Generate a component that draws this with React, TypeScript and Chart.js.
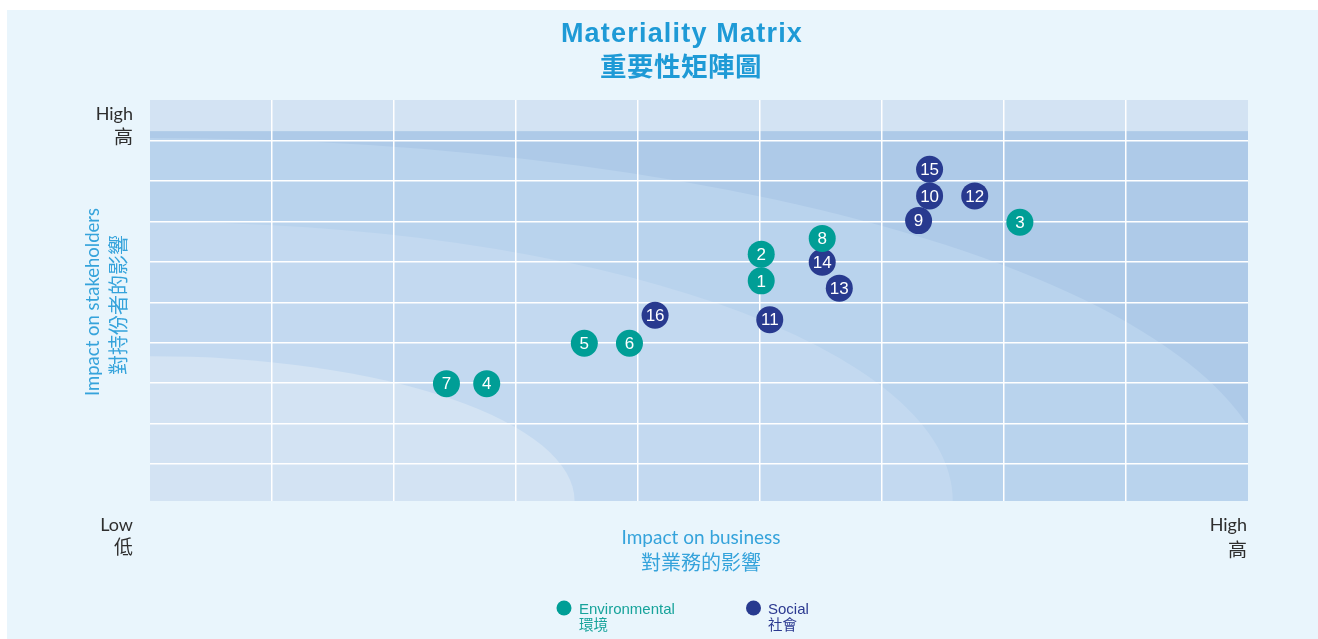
import { useEffect, useRef } from "react";
import { Chart, registerables } from "chart.js";

Chart.register(...registerables);

// ---- Data ----
const envIds = [1, 2, 3, 4, 5, 6, 7, 8];
const envX = [5.01, 5.01, 7.13, 2.76, 3.56, 3.93, 2.43, 5.51];
const envY = [5.53, 6.19, 6.98, 2.99, 3.99, 3.99, 2.99, 6.58];

const socIds = [9, 10, 11, 12, 13, 14, 15, 16];
const socX = [6.3, 6.39, 5.08, 6.76, 5.65, 5.51, 6.39, 4.14];
const socY = [7.02, 7.63, 4.57, 7.63, 5.35, 5.99, 8.29, 4.68];

const xTickValues = [1, 2, 3, 4, 5, 6, 7, 8];
const yTickValues = [1, 2, 3, 4, 5, 6, 7, 8, 9];
const X_MIN = 0;
const X_MAX = 9;
const Y_MIN = 0.09;
const Y_MAX = 10;

// background zones (quarter ellipses from the low/low corner), in axis units
const zoneRX = [9.2, 6.58, 3.48];
const zoneRY = [8.97, 6.9, 3.58];
const zoneColors = ["#b9d3ed", "#c3d9f0", "#d3e3f3"];
const outerZoneColor = "#aecae8";
const topBandFrom = 9.23;
const topBandColor = "#d3e3f3";

const ENV_COLOR = "#009e96";
const SOC_COLOR = "#283a8f";
const TITLE_COLOR = "#1e9ad6";
const AXIS_TITLE_COLOR = "#35a3db";
const DARK_TEXT = "#2e2e2e";
const PANEL_COLOR = "#e9f5fc";

const CJK = '"Noto Sans CJK TC"';
const HUMANIST = `Lato, ${CJK}, sans-serif`;
const ARIAL = `"Liberation Sans", Arial, ${CJK}, sans-serif`;

const bgPlugin = {
  id: "bgZones",
  beforeDraw(chart: any) {
    const { ctx, chartArea: a, scales } = chart;
    const xs = scales.x;
    const ys = scales.y;
    ctx.save();
    ctx.fillStyle = "#ffffff";
    ctx.fillRect(0, 0, chart.width, chart.height);
    ctx.fillStyle = PANEL_COLOR;
    ctx.fillRect(7, 10, chart.width - 7, chart.height - 10);

    ctx.beginPath();
    ctx.rect(a.left, a.top, a.right - a.left, a.bottom - a.top);
    ctx.clip();
    ctx.fillStyle = outerZoneColor;
    ctx.fillRect(a.left, a.top, a.right - a.left, a.bottom - a.top);
    const cx = xs.getPixelForValue(X_MIN);
    const cy = ys.getPixelForValue(Y_MIN);
    zoneRX.forEach((rx, i) => {
      const px = xs.getPixelForValue(X_MIN + rx) - cx;
      const py = cy - ys.getPixelForValue(Y_MIN + zoneRY[i]);
      ctx.beginPath();
      ctx.ellipse(cx, cy, px, py, 0, 0, Math.PI * 2);
      ctx.fillStyle = zoneColors[i];
      ctx.fill();
    });
    const tb = ys.getPixelForValue(topBandFrom);
    ctx.fillStyle = topBandColor;
    ctx.fillRect(a.left, a.top, a.right - a.left, tb - a.top);
    ctx.restore();
  },
};

const labelPlugin = {
  id: "pointLabels",
  afterDatasetsDraw(chart: any) {
    const { ctx } = chart;
    ctx.save();
    ctx.fillStyle = "#ffffff";
    ctx.font = `17px ${ARIAL}`;
    ctx.textAlign = "center";
    ctx.textBaseline = "middle";
    chart.data.datasets.forEach((ds: any, di: number) => {
      const meta = chart.getDatasetMeta(di);
      meta.data.forEach((el: any, i: number) => {
        ctx.fillText(String(ds.ids[i]), el.x, el.y + 1);
      });
    });
    ctx.restore();
  },
};

const textPlugin = {
  id: "texts",
  afterDraw(chart: any) {
    const { ctx } = chart;
    ctx.save();
    // title
    ctx.fillStyle = TITLE_COLOR;
    ctx.textAlign = "center";
    ctx.textBaseline = "alphabetic";
    ctx.font = `bold 27px ${ARIAL}`;
    (ctx as any).letterSpacing = "1.2px";
    ctx.fillText("Materiality Matrix", 682, 42);
    (ctx as any).letterSpacing = "0.5px";
    ctx.textBaseline = "middle";
    ctx.font = `bold 26.5px ${CJK}`;
    ctx.fillText("重要性矩陣圖", 681, 66);
    (ctx as any).letterSpacing = "0px";

    // corner labels
    ctx.fillStyle = DARK_TEXT;
    ctx.textAlign = "right";
    ctx.textBaseline = "alphabetic";
    ctx.font = `18px ${HUMANIST}`;
    ctx.fillText("High", 133, 120);
    ctx.fillText("Low", 133, 531);
    ctx.fillText("High", 1247, 531);
    ctx.textBaseline = "middle";
    ctx.font = `19px ${CJK}`;
    ctx.fillText("高", 133, 137);
    ctx.fillText("低", 133, 547);
    ctx.fillText("高", 1247, 550);

    // x axis title
    ctx.fillStyle = AXIS_TITLE_COLOR;
    ctx.textAlign = "center";
    ctx.textBaseline = "alphabetic";
    ctx.font = `19px ${HUMANIST}`;
    ctx.fillText("Impact on business", 701, 544);
    ctx.textBaseline = "middle";
    ctx.font = `20px ${CJK}`;
    ctx.fillText("對業務的影響", 701, 562);

    // y axis title
    ctx.save();
    ctx.translate(99, 302);
    ctx.rotate(-Math.PI / 2);
    ctx.textBaseline = "alphabetic";
    ctx.font = `18.5px ${HUMANIST}`;
    ctx.fillText("Impact on stakeholders", 0, 0);
    ctx.restore();
    ctx.save();
    ctx.translate(118, 305);
    ctx.rotate(-Math.PI / 2);
    ctx.textBaseline = "middle";
    ctx.font = `20px ${CJK}`;
    ctx.fillText("對持份者的影響", 0, 0);
    ctx.restore();

    // legend
    const items = [
      { cx: 564, tx: 579, color: ENV_COLOR, textColor: "#17a39b", en: "Environmental", zh: "環境" },
      { cx: 753.5, tx: 768, color: SOC_COLOR, textColor: "#2b3990", en: "Social", zh: "社會" },
    ];
    items.forEach((it) => {
      ctx.beginPath();
      ctx.arc(it.cx, 608, 7.5, 0, Math.PI * 2);
      ctx.fillStyle = it.color;
      ctx.fill();
      ctx.fillStyle = it.textColor;
      ctx.textAlign = "left";
      ctx.textBaseline = "alphabetic";
      ctx.font = `15px ${ARIAL}`;
      ctx.fillText(it.en, it.tx, 613.5);
      ctx.textBaseline = "middle";
      ctx.font = `14.5px ${CJK}`;
      ctx.fillText(it.zh, it.tx, 624.5);
    });
    ctx.restore();
  },
};

function toPoints(xs: number[], ys: number[]) {
  return xs.map((x, i) => ({ x, y: ys[i] }));
}

export default function App() {
  const ref = useRef<HTMLCanvasElement | null>(null);
  useEffect(() => {
    if (!ref.current) return;
    const chart = new Chart(ref.current, {
      type: "scatter",
      data: {
        datasets: [
          {
            label: "Environmental 環境",
            data: toPoints(envX, envY),
            backgroundColor: ENV_COLOR,
            borderWidth: 0,
            pointRadius: 13.5,
            pointHoverRadius: 13.5,
            ids: envIds,
          } as any,
          {
            label: "Social 社會",
            data: toPoints(socX, socY),
            backgroundColor: SOC_COLOR,
            borderWidth: 0,
            pointRadius: 13.5,
            pointHoverRadius: 13.5,
            ids: socIds,
          } as any,
        ],
      },
      options: {
        animation: false,
        responsive: false,
        events: [],
        layout: { padding: { left: 150, right: 70, top: 100, bottom: 138 } },
        plugins: {
          legend: { display: false },
          tooltip: { enabled: false },
          title: { display: false },
        },
        scales: {
          x: {
            type: "linear",
            min: X_MIN,
            max: X_MAX,
            afterBuildTicks: (s: any) => {
              s.ticks = xTickValues.map((v) => ({ value: v }));
            },
            ticks: { display: false },
            grid: { color: "#ffffff", lineWidth: 1.5, drawTicks: false },
            border: { display: false },
          },
          y: {
            type: "linear",
            min: Y_MIN,
            max: Y_MAX,
            afterBuildTicks: (s: any) => {
              s.ticks = yTickValues.map((v) => ({ value: v }));
            },
            ticks: { display: false },
            grid: { color: "#ffffff", lineWidth: 1.5, drawTicks: false },
            border: { display: false },
          },
        },
      },
      plugins: [bgPlugin, labelPlugin, textPlugin],
    });
    return () => chart.destroy();
  }, []);
  return (
    <div style={{ position: "absolute", left: 0, top: 0, width: 1318, height: 639 }}>
      <canvas ref={ref} width={1318} height={639} style={{ display: "block" }} />
    </div>
  );
}
